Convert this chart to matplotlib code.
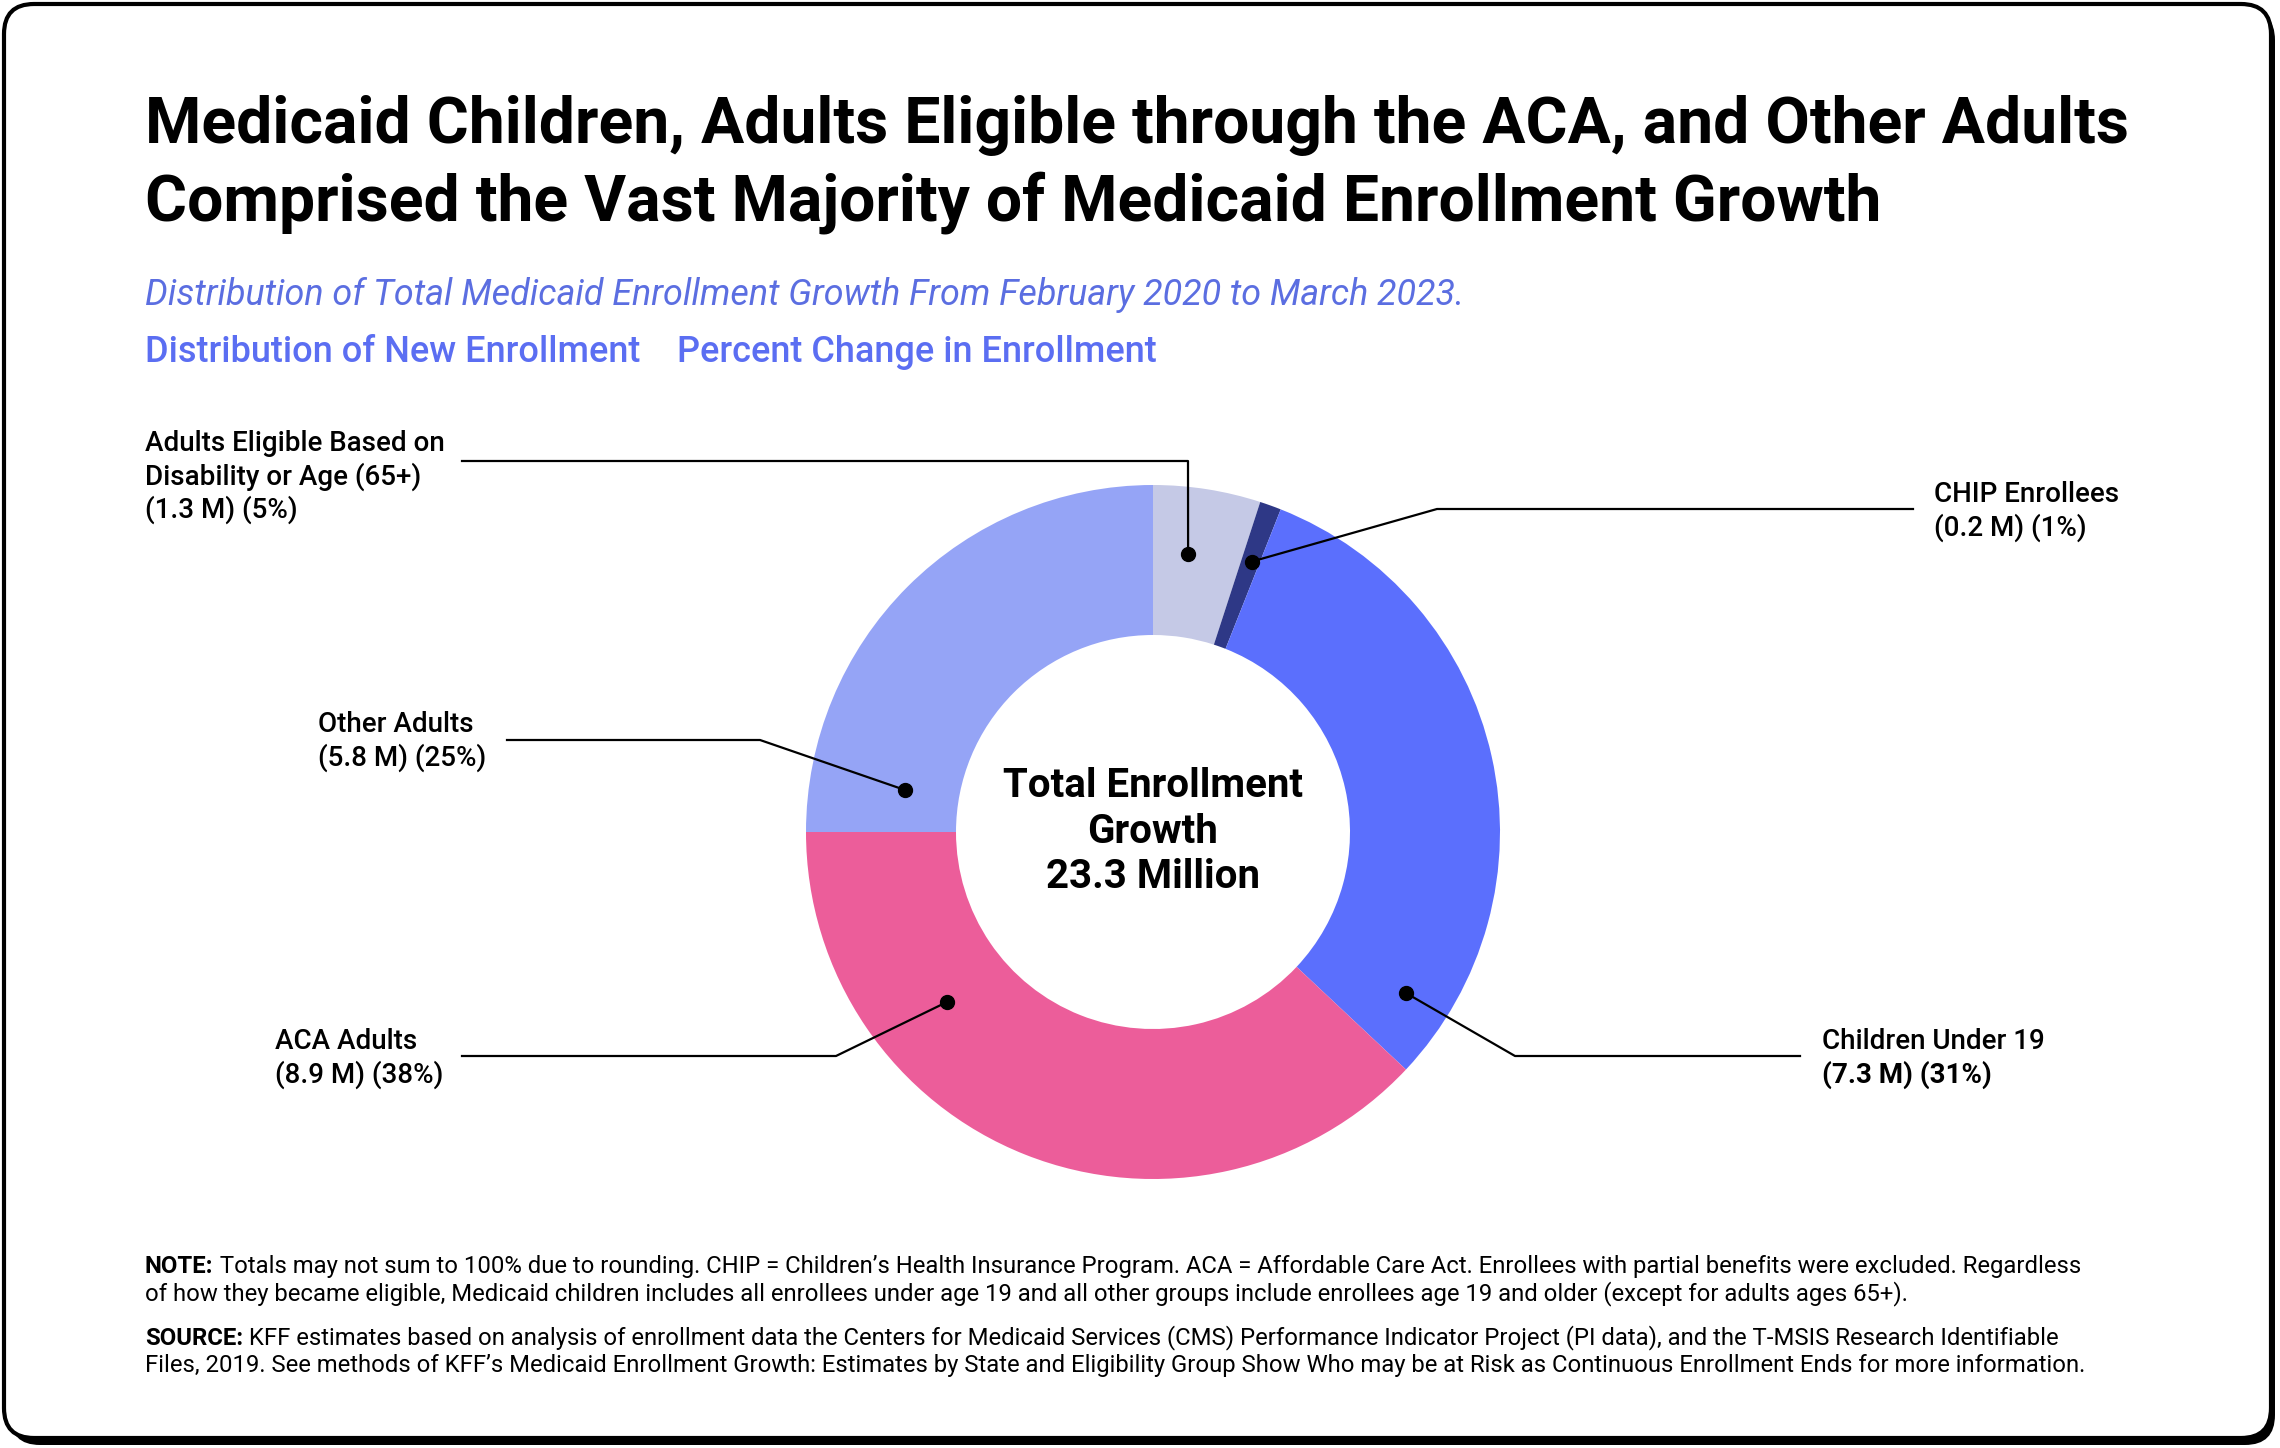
import numpy as np
import matplotlib.pyplot as plt
from matplotlib.patches import FancyBboxPatch

plt.rcParams['font.family'] = ['Roboto', 'DejaVu Sans']

W, H = 2280, 1448

# data
groups = ['Adults Eligible Based on\nDisability or Age (65+)', 'CHIP Enrollees', 'Children Under 19',
          'ACA Adults', 'Other Adults']
millions = [1.3, 0.2, 7.3, 8.9, 5.8]
shares = [5, 1, 31, 38, 25]
colors = ['#c5c9e6', '#2e3886', '#5b6ffd', '#ec5d9a', '#95a4f6']
total = 23.3

title = ('Medicaid Children, Adults Eligible through the ACA, and Other Adults\n'
         'Comprised the Vast Majority of Medicaid Enrollment Growth')
subtitle = 'Distribution of Total Medicaid Enrollment Growth From February 2020 to March 2023.'
tabs = ['Distribution of New Enrollment', 'Percent Change in Enrollment']
note = ('Totals may not sum to 100% due to rounding. CHIP = Children\u2019s Health Insurance Program. '
        'ACA = Affordable Care Act. Enrollees with partial benefits were excluded. Regardless',
        'of how they became eligible, Medicaid children includes all enrollees under age 19 and all other '
        'groups include enrollees age 19 and older (except for adults ages 65+).')
source = ('KFF estimates based on analysis of enrollment data the Centers for Medicaid Services (CMS) '
          'Performance Indicator Project (PI data), and the T-MSIS Research Identifiable',
          'Files, 2019. See methods of KFF\u2019s Medicaid Enrollment Growth: Estimates by State and '
          'Eligibility Group Show Who may be at Risk as Continuous Enrollment Ends for more information.')

fig = plt.figure(figsize=(W / 100, H / 100), dpi=100)
ax = fig.add_axes([0, 0, 1, 1])
ax.set_xlim(0, W)
ax.set_ylim(0, H)
ax.set_aspect('equal')
ax.axis('off')

def Y(y):  # y measured from the top
    return H - y

# card border with a small shadow
ax.add_patch(FancyBboxPatch((10, 3), W - 15, H - 13, boxstyle='round,pad=0,rounding_size=30',
                            fc='black', ec='black', lw=0, zorder=0))
ax.add_patch(FancyBboxPatch((4, 10), W - 13, H - 14, boxstyle='round,pad=0,rounding_size=30',
                            fc='white', ec='black', lw=3, zorder=1))

# header
t = title.split('\n')
ax.text(145, Y(143), t[0], fontsize=46.3, fontweight='bold', va='baseline', zorder=3)
ax.text(145, Y(220), t[1], fontsize=46.3, fontweight='bold', va='baseline', zorder=3)
ax.text(145, Y(305), subtitle, fontsize=25.8, style='italic', color='#5b6ee1', va='baseline', zorder=3)
ax.text(145, Y(362), tabs[0], fontsize=26, fontweight=500, color='#5b6ef2', va='baseline', zorder=3)
ax.text(677, Y(362), tabs[1], fontsize=26, fontweight=500, color='#5b6ef2', va='baseline', zorder=3)

# donut
cx, cy, R, ring = 1153, Y(832), 347, 150
wedges, _ = ax.pie(shares, colors=colors, startangle=90, counterclock=False,
                   center=(cx, cy), radius=R, wedgeprops=dict(width=ring, lw=0))
for w in wedges:
    w.set_zorder(2)
ax.set_xlim(0, W)
ax.set_ylim(0, H)

ax.text(cx, cy + 46, 'Total Enrollment', fontsize=29, fontweight='bold', ha='center', va='center', zorder=3)
ax.text(cx, cy, 'Growth', fontsize=29, fontweight='bold', ha='center', va='center', zorder=3)
ax.text(cx, cy - 45, f'{total} Million', fontsize=29, fontweight='bold', ha='center', va='center', zorder=3)

# callouts: (fraction through wedge, dot radius, elbow, line end, label x, first baseline)
callouts = [
    (0.40, 280, (1188, 461), (462, 461), 145, 451),
    (0.58, 288, (1437, 509), (1913, 509), 1934, 502),
    (0.904, 300, (1515, 1056), (1800, 1056), 1822, 1049),
    (0.711, 267, (836, 1056), (462, 1056), 275, 1049),
    (0.107, 252, (760, 740), (507, 740), 318, 732),
]
start = 90.0
for i, (frac, r, elbow, end, lx, ly) in enumerate(callouts):
    span = 360.0 * shares[i] / sum(shares)
    ang = np.radians(start - frac * span)
    start -= span
    dx, dy = cx + r * np.cos(ang), cy + r * np.sin(ang)
    ax.plot([dx, elbow[0], end[0]], [dy, Y(elbow[1]), Y(end[1])], color='black', lw=1.6, zorder=4)
    ax.plot(dx, dy, 'o', color='black', ms=10, zorder=5)
    lines = groups[i].split('\n') + [f'({millions[i]} M) ({shares[i]}%)']
    for k, s in enumerate(lines):
        wt = 'bold' if (i == 2 and k == len(lines) - 1) else 500
        ax.text(lx, Y(ly + 33.5 * k), s, fontsize=20, fontweight=wt, va='baseline', zorder=3)

# notes
def footnote(label, body, y0):
    b = ax.text(145, Y(y0), label, fontsize=17.2, fontweight='bold', va='baseline', zorder=3)
    ax.annotate(' ' + body[0], xy=(1, 0), xycoords=b, fontsize=17.2, va='bottom', ha='left', zorder=3)
    ax.text(145, Y(y0 + 27), body[1], fontsize=17.2, va='baseline', zorder=3)

footnote('NOTE:', note, 1273)
footnote('SOURCE:', source, 1345)

fig.savefig('out.png', dpi=100, facecolor='white')
